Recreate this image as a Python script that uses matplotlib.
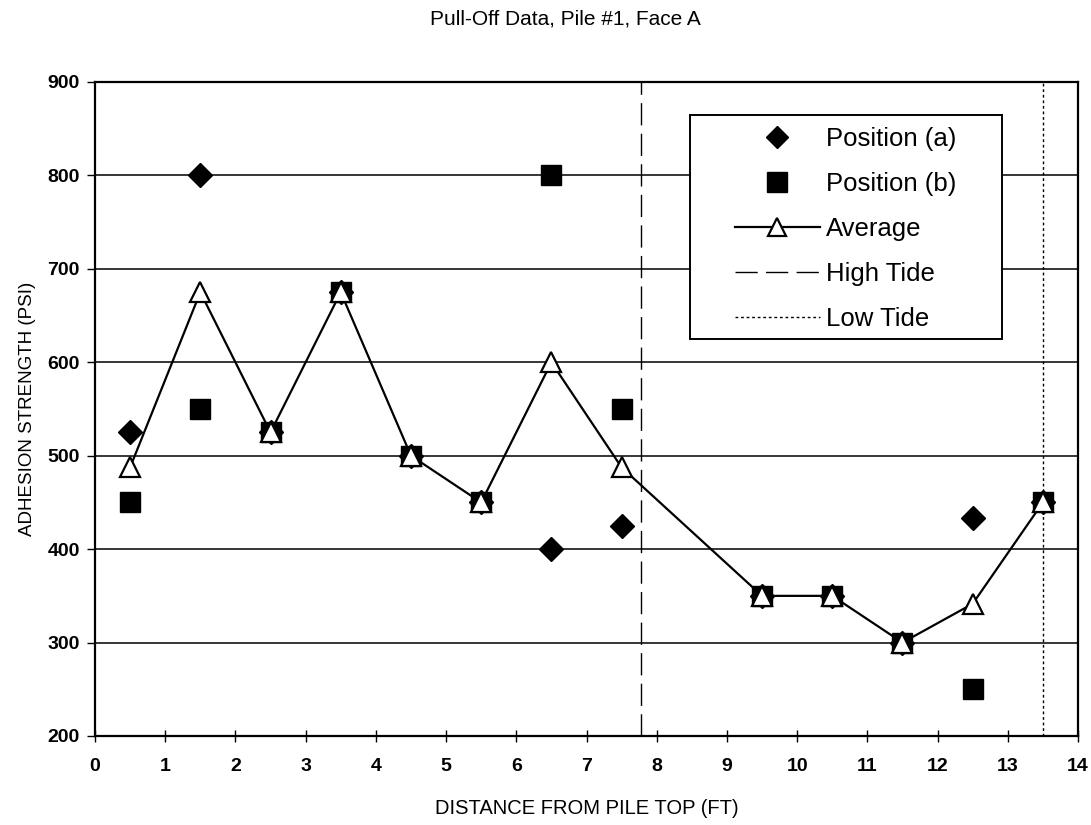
import matplotlib
matplotlib.use("Agg")
import matplotlib.pyplot as plt
from matplotlib.patches import Rectangle

plt.rcParams['font.family'] = ['Liberation Sans', 'DejaVu Sans']

# distance from pile top (ft)
dist = [0.5, 1.5, 2.5, 3.5, 4.5, 5.5, 6.5, 7.5, 9.5, 10.5, 11.5, 12.5, 13.5]
pos_a = [525, 800, 525, 675, 500, 450, 400, 425, 350, 350, 300, 433, 450]
pos_b = [450, 550, 525, 675, 500, 450, 800, 550, 350, 350, 300, 250, 450]
average = [487.5, 675, 525, 675, 500, 450, 600, 487.5, 350, 350, 300, 341.5, 450]

high_tide = 7.78
low_tide = 13.5

fig = plt.figure(figsize=(10.91, 8.25), dpi=100)
ax = fig.add_axes([95/1091, 1 - 736/825, (1078 - 95)/1091, (736 - 82)/825])

# horizontal gridlines
for v in range(300, 900, 100):
    ax.axhline(v, color='black', lw=1.1, zorder=1)

ax.axvline(high_tide, color='black', lw=1.0, linestyle=(0, (16, 6)), zorder=2, label='High Tide')
ax.axvline(low_tide, color='black', lw=1.0, linestyle=(0, (2, 2)), zorder=2, label='Low Tide')

h1, = ax.plot(dist, pos_a, linestyle='none', marker='D', ms=12, color='black', zorder=3)
h2, = ax.plot(dist, pos_b, linestyle='none', marker='s', ms=14.5, color='black', zorder=3)
h3, = ax.plot(dist, average, color='black', lw=1.6, marker='^', ms=14,
              markerfacecolor='white', markeredgecolor='black', markeredgewidth=1.6, zorder=4)

ax.set_xlim(0, 14)
ax.set_ylim(200, 900)
ax.set_xticks(range(0, 15))
ax.set_yticks(range(200, 1000, 100))
for s in ax.spines.values():
    s.set_linewidth(1.6)

ax.tick_params(axis='x', direction='inout', length=8, width=1, pad=12, labelsize=14)
ax.tick_params(axis='y', direction='out', length=6, width=1, pad=5, labelsize=14)
for lab in ax.get_xticklabels() + ax.get_yticklabels():
    lab.set_fontweight('bold')

ax.set_xlabel('DISTANCE FROM PILE TOP (FT)', fontsize=14.5, labelpad=17)
ax.set_ylabel('ADHESION STRENGTH (PSI)', fontsize=13.5, labelpad=8)
fig.text(0.518, 1 - 19/825, 'Pull-Off Data, Pile #1, Face A', ha='center', va='center', fontsize=15)

# legend box
box = Rectangle((690/1091, 1 - 339/825), (1002 - 690)/1091, (339 - 115)/825,
                transform=fig.transFigure, facecolor='white', edgecolor='black', lw=1.4, zorder=4)
fig.add_artist(box)

hh, ll = ax.get_legend_handles_labels()
handles = [h1, h2, h3, hh[0], hh[1]]
labels = ['Position (a)', 'Position (b)', 'Average', 'High Tide', 'Low Tide']
leg = fig.legend(handles, labels, loc='upper left', bbox_to_anchor=(735/1091, 1 - 127/825),
                 fontsize=18.5, frameon=False, borderpad=0, borderaxespad=0,
                 handlelength=3.3, handletextpad=0.23, labelspacing=0.82,
                 markerscale=0.95)
leg.set_zorder(5)

fig.savefig('out.png', dpi=100)
